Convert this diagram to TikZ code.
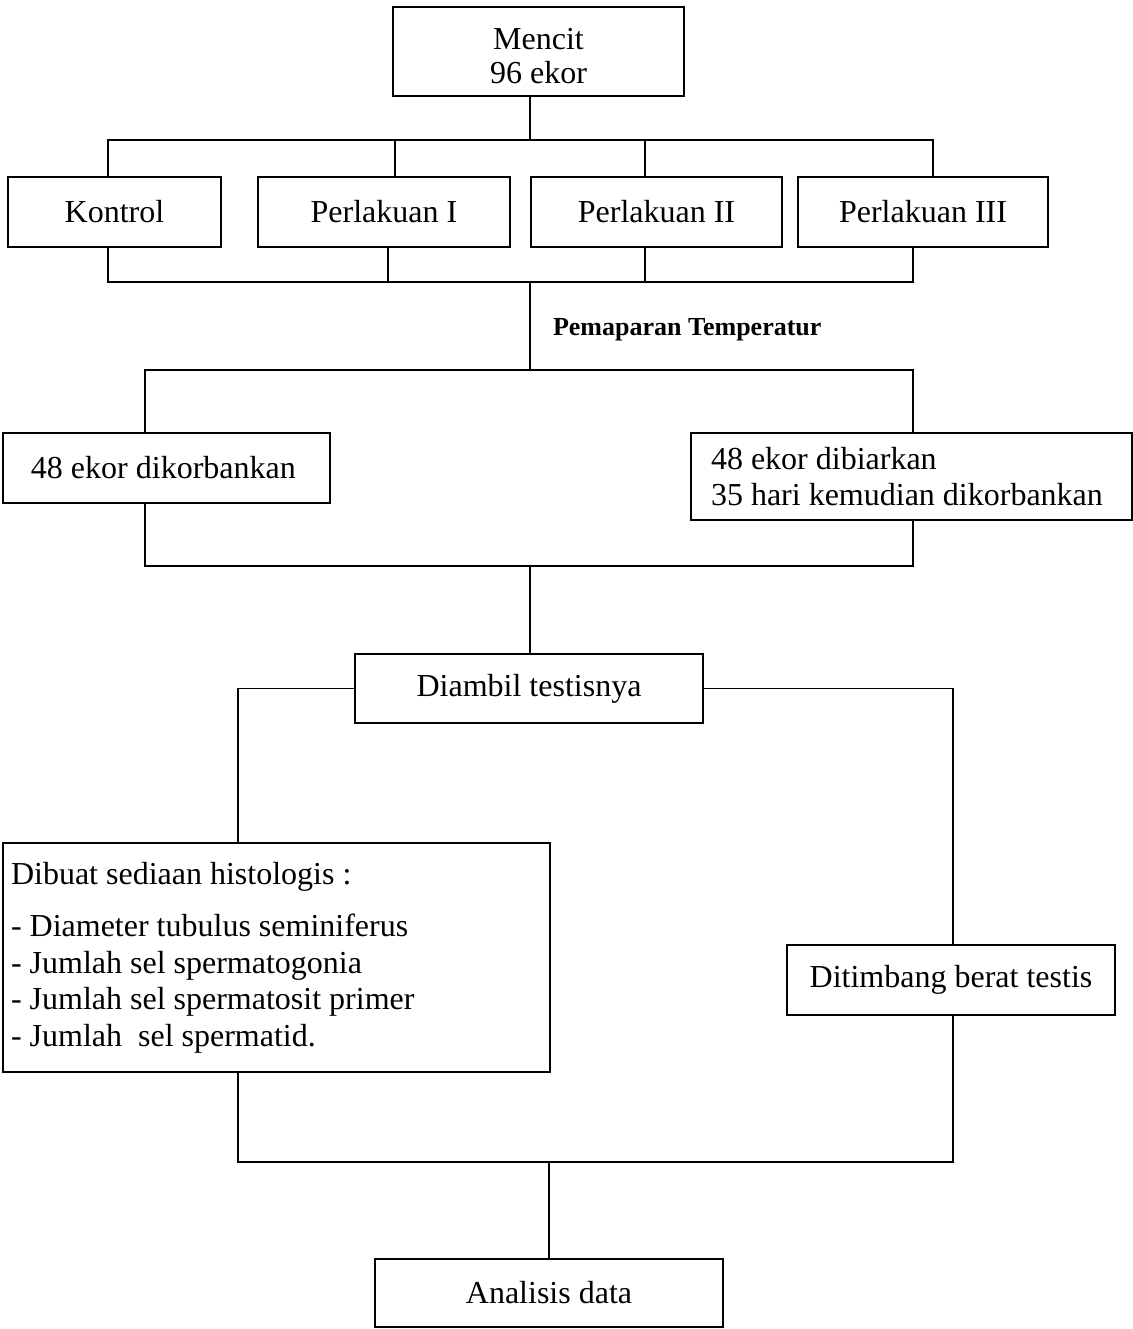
\documentclass[tikz,border=0pt]{standalone}
\usepackage{fontspec}
\setmainfont{Liberation Serif}
\usetikzlibrary{positioning}

\begin{document}
\begin{tikzpicture}[
	x=0.5pt, y=-0.5pt,
	every node/.style = {font=\fontsize{16}{18.3}\selectfont},
	box/.style = {draw, line width=1pt, minimum height=35pt, inner sep=0pt, align=center},
	lbox/.style = {box, align=flush left, inner ysep=0pt},
	link/.style = {line width=0.9pt}
     ]
	\useasboundingbox (0,0) rectangle (1132,1329);
%
		\node[box, minimum width=145.5pt, minimum height=44.5pt] (mencit) at (538.5,51.5) {\rule{0pt}{15pt}Mencit\\[-1pt]96 ekor};
		\node[box, minimum width=106.5pt] (kontrol) at (114.5,212) {Kontrol};
		\node[box, minimum width=126pt] (perl1) at (384,212) {Perlakuan I};
		\node[box, minimum width=125.5pt] (perl2) at (656.5,212) {Perlakuan II};
		\node[box, minimum width=125pt] (perl3) at (923,212) {Perlakuan III};
%
		\node[font=\bfseries\fontsize{13}{15}\selectfont, anchor=west] (papar) at (546,330) {Pemaparan Temperatur};
%
		\node[lbox, anchor=west, inner xsep=14pt, text width=135.5pt] (korban) at (2,468) {48 ekor dikorbankan};
		\node[lbox, anchor=west, inner xsep=10pt, text width=200.5pt, minimum height=43.5pt] (biar) at (690,476.5) {48 ekor dibiarkan\\35 hari kemudian dikorbankan};
%
		\node[box, minimum width=174pt, minimum height=34.5pt] (ambil) at (529,688.5) {Diambil testisnya};
		\node[lbox, anchor=west, inner xsep=4pt, text width=265.5pt, minimum height=114.5pt] (histo) at (2,957.5)
			{Dibuat sediaan histologis :\\[8pt]
			 - Diameter tubulus seminiferus\\
			 - Jumlah sel spermatogonia\\
			 - Jumlah sel spermatosit primer\\
			 - Jumlah\ \ sel spermatid.};
		\node[box, minimum width=164pt] (timbang) at (951,980) {Ditimbang berat testis};
		\node[box, minimum width=174pt, minimum height=34pt] (analisis) at (549,1293) {Analisis data};
%
		\coordinate (top) at (530,140);
		\draw[link] (mencit.south -| top) -- (top);
		\draw[link] (kontrol.north -| 108,0) |- (top) -| (perl3.north -| 933,0);
		\draw[link] (perl1.north -| 395,0) -- ++(0,-37);
		\draw[link] (perl2.north -| 645,0) -- ++(0,-37);
%
		\coordinate (mid) at (530,282);
		\draw[link] (kontrol.south -| 108,0) |- (mid) -| (perl3.south -| 913,0);
		\draw[link] (perl1.south -| 388,0) -- ++(0,35);
		\draw[link] (perl2.south -| 645,0) -- ++(0,35);
%
		\coordinate (split) at (530,370);
		\draw[link] (mid) -- (split);
		\draw[link] (korban.north -| 145,0) |- (split) -| (biar.north -| 913,0);
%
		\coordinate (join) at (530,566);
		\draw[link] (korban.south -| 145,0) |- (join) -| (biar.south -| 913,0);
		\draw[link] (join) -- (ambil.north -| join);
%
		\draw[link] (ambil.west) -| (histo.north -| 238,0);
		\draw[link] (ambil.east) -| (timbang.north -| 953,0);
%
		\coordinate (collect) at (549,1162);
		\draw[link] (histo.south -| 238,0) |- (collect) -| (timbang.south -| 953,0);
		\draw[link] (collect) -- (analisis.north);
\end{tikzpicture}
\end{document}
